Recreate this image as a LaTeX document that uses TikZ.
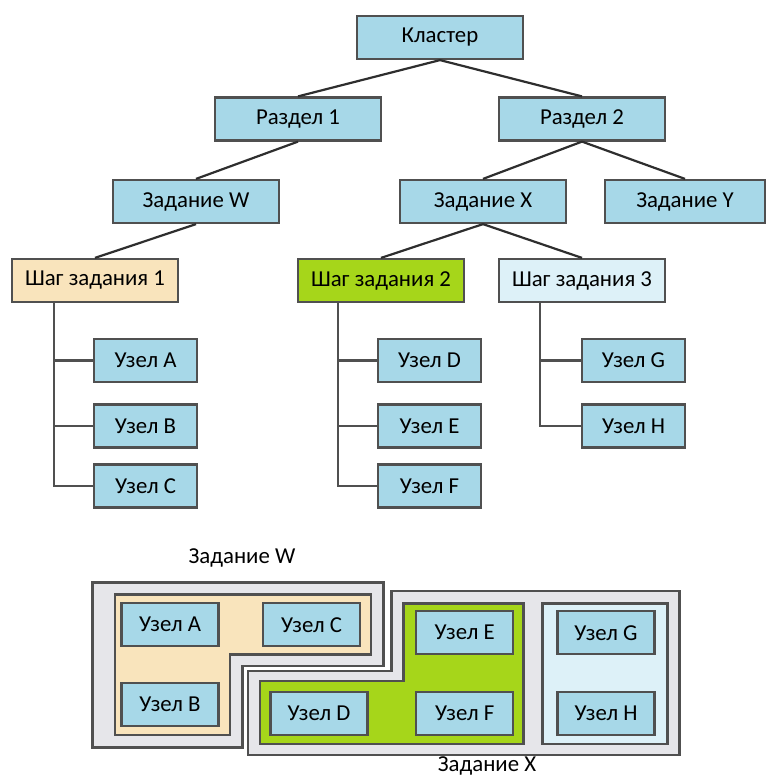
\documentclass[tikz,border=0pt]{standalone}
\usepackage{fontspec}
\setmainfont{Carlito}
\usepackage{tikz}
\usetikzlibrary{arrows.meta,calc}
\definecolor{aqua}{HTML}{A7D8E8}
\definecolor{sand}{HTML}{F9E4BC}
\definecolor{lime}{HTML}{A6D61A}
\definecolor{frost}{HTML}{DDF1F8}
\definecolor{haze}{HTML}{E6E6EA}
\definecolor{edge}{HTML}{505050}
\definecolor{wire}{HTML}{2E2E2E}
\tikzset{
  every picture/.style={font=\fontsize{11.4}{13}\selectfont, line join=miter},
  box/.style={draw=edge, fill=aqua, line width=1.1pt, minimum width=83pt, minimum height=21.5pt, inner sep=0pt},
  unit/.style={box, minimum width=51.5pt},
  cell/.style={box, minimum width=48.5pt},
  link/.style={draw=wire, line width=1.1pt},
  zone/.style={draw=edge, line width=1.3pt},
}

\begin{document}
\begin{tikzpicture}[x=0.5pt,y=-0.5pt]
\useasboundingbox (0,0) rectangle (766,776);
\node[box] (klaster) at (440,37.5) {Кластер};
\node[box] (razdel1) at (298,119) {Раздел 1};
\node[box] (razdel2) at (582,119) {Раздел 2};
\node[box] (zadW) at (196,201.5) {Задание W};
\node[box] (zadX) at (483,201.5) {Задание X};
\node[box,minimum width=80pt] (zadY) at (685,201.5) {Задание Y};
\node[box,fill=sand] (shag1) at (95,280.5) {Шаг задания 1};
\node[box,fill=lime] (shag2) at (381,280.5) {Шаг задания 2};
\node[box,fill=frost] (shag3) at (582,280.5) {Шаг задания 3};
\foreach \n/\t/\x/\y in {uzA/A/145.5/360.5, uzB/B/145.5/426, uzC/C/145.5/486,
  uzD/D/429.5/360.5, uzE/E/429.5/426, uzF/F/429.5/486, uzG/G/633.5/360.5, uzH/H/633.5/426}
  {\node[unit] (\n) at (\x,\y) {Узел \t};}
\draw[link] (klaster.south) -- (razdel1.north); \draw[link] (klaster.south) -- (razdel2.north);
\draw[link] (razdel1.south) -- (zadW.north);
\draw[link] (razdel2.south) -- (zadX.north); \draw[link] (razdel2.south) -- (zadY.north);
\draw[link] (zadW.south) -- (shag1.north);
\draw[link] (zadX.south) -- (shag2.north); \draw[link] (zadX.south) -- (shag3.north);
\path (shag1.south west) ++(43,0) coordinate (t1);
\path (shag2.south west) ++(41,0) coordinate (t2);
\path (shag3.south west) ++(42,0) coordinate (t3);
\draw[link,draw=edge] (t1) |- (uzC.west); \draw[link,draw=edge] (uzA.west) -- (uzA.west -| t1); \draw[link,draw=edge] (uzB.west) -- (uzB.west -| t1);
\draw[link,draw=edge] (t2) |- (uzF.west); \draw[link,draw=edge] (uzD.west) -- (uzD.west -| t2); \draw[link,draw=edge] (uzE.west) -- (uzE.west -| t2);
\draw[link,draw=edge] (t3) |- (uzH.west); \draw[link,draw=edge] (uzG.west) -- (uzG.west -| t3);
\node (capW) at (242,558) {Задание W};
\node[inner sep=0pt,anchor=base] (capX) at (487,771.5) {Задание X};
\draw[zone,fill=haze] (92.7,582.3) -- (383.3,582.3) -- (383.3,666) -- (242.3,666) -- (242.3,747.3) -- (92.7,747.3) -- cycle;
\draw[zone,fill=sand] (115,594.3) -- (371,594.3) -- (371,654.3) -- (230,654.3) -- (230,735) -- (115,735) -- cycle;
\draw[zone,fill=haze] (391.7,591) -- (679.3,591) -- (679.3,755) -- (248,755) -- (248,671) -- (391.7,671) -- cycle;
\draw[zone,fill=lime] (403.3,603.3) -- (523.3,603.3) -- (523.3,744) -- (260,744) -- (260,681) -- (403.3,681) -- cycle;
\draw[zone,fill=frost] (542.7,603.3) rectangle (667.7,744);
\foreach \n/\t/\x/\y in {wA/A/170/624.7, wC/C/311.5/624.7, wB/B/170/704.7, xD/D/319/713.3,
  xE/E/464.7/632.5, xF/F/464.7/713.3, xG/G/606/632.8, xH/H/606/713.3}
  {\node[cell] (\n) at (\x,\y) {Узел \t};}
\end{tikzpicture}
\end{document}
